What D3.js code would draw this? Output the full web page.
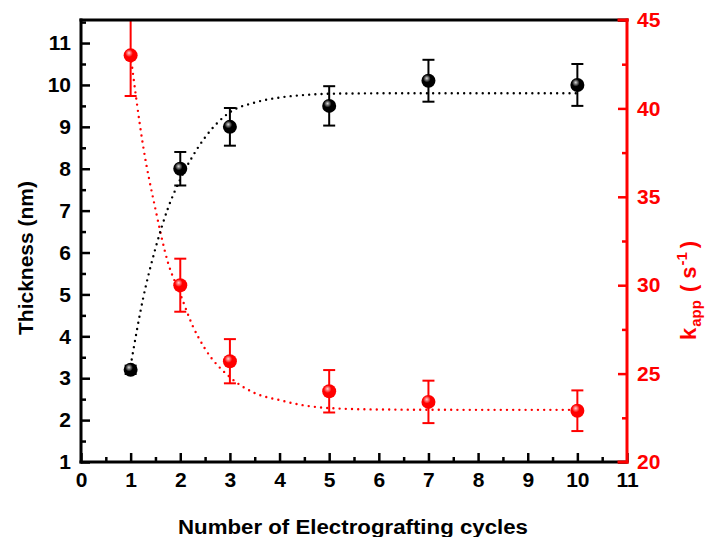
<!DOCTYPE html>
<html>
<head>
<meta charset="utf-8">
<script src="https://cdn.jsdelivr.net/npm/d3@7"></script>
<style>
  html, body { margin: 0; padding: 0; background: #fff; }
  svg text { font-family: "Liberation Sans", Arial, sans-serif; font-weight: bold; }
</style>
</head>
<body>
<div id="chart" style="width:707px;height:537px"></div>
<script>
// 数据
const cycles = [1, 2, 3, 5, 7, 10]
const thickness = [3.2, 8.0, 9.0, 9.5, 10.1, 10.0]
const thicknessErr = [0.1, 0.4, 0.45, 0.47, 0.5, 0.5]
const kapp = [43, 30, 25.7, 24, 23.4, 22.9]
const kappErr = [2.3, 1.5, 1.25, 1.2, 1.2, 1.15]

// 拟合曲线（从图上读取的点）
const fitX = [1, 1.25, 1.5, 1.75, 2, 2.25, 2.5, 3, 3.5, 4, 4.5, 5, 6, 8, 10]
const fitThickness = [3.3, 4.9, 6.1, 7.05, 7.75, 8.3, 8.75, 9.35, 9.58, 9.7, 9.76, 9.79, 9.8, 9.8, 9.8]
const fitKapp = [43, 37.9, 34.3, 31.3, 29.5, 27.7, 26.4, 24.8, 23.9, 23.5, 23.2, 23.05, 22.97, 22.95, 22.95]

// 刻度
const xTicks = d3.range(0, 12)
const yLeftTicks = d3.range(1, 12)
const yRightTicks = [20, 25, 30, 35, 40, 45]

const width = 707
const height = 537
const mLeft = 81, mRight = 627, mTop = 20, mBottom = 462
const RED = "#ff0000"

const svg = d3.select("#chart").append("svg")
  .attr("width", width).attr("height", height)

const x = d3.scaleLinear().domain([0, 11]).range([mLeft, mRight])
const yL = d3.scaleLinear().domain([1, 11.55]).range([mBottom, mTop])
const yR = d3.scaleLinear().domain([20, 45]).range([mBottom, mTop])

// 渐变（球形标记）
const defs = svg.append("defs")
function ball(id, light, dark) {
  const g = defs.append("radialGradient").attr("id", id)
    .attr("cx", "40%").attr("cy", "38%").attr("r", "60%").attr("fx", "38%").attr("fy", "32%")
  g.append("stop").attr("offset", "0%").attr("stop-color", light)
  g.append("stop").attr("offset", "45%").attr("stop-color", dark)
  g.append("stop").attr("offset", "100%").attr("stop-color", dark)
}
ball("ballBlack", "#d8d8d8", "#000")
ball("ballRed", "#ffd0d0", RED)

defs.append("clipPath").attr("id", "plotClip")
  .append("rect").attr("x", mLeft).attr("y", mTop).attr("width", mRight - mLeft).attr("height", mBottom - mTop)

const plot = svg.append("g").attr("clip-path", "url(#plotClip)")

// 拟合虚线
const lineL = d3.line().x((d, i) => x(fitX[i])).y(d => yL(d)).curve(d3.curveMonotoneX)
const lineR = d3.line().x((d, i) => x(fitX[i])).y(d => yR(d)).curve(d3.curveMonotoneX)

plot.append("path").attr("d", lineR(fitKapp))
  .attr("fill", "none").attr("stroke", RED).attr("stroke-width", 2.4)
  .attr("stroke-linecap", "round").attr("stroke-dasharray", "0 6.2")
plot.append("path").attr("d", lineL(fitThickness))
  .attr("fill", "none").attr("stroke", "#000").attr("stroke-width", 2.4)
  .attr("stroke-linecap", "round").attr("stroke-dasharray", "0 6.2")

// 误差棒 + 标记
function series(values, errs, scale, color, grad) {
  const g = plot.append("g")
  const rows = cycles.map((c, i) => ({ c, v: values[i], e: errs[i] }))
  const bars = g.selectAll("g.err").data(rows).enter().append("g")
    .attr("stroke", color).attr("stroke-width", 2)
  bars.append("line")
    .attr("x1", d => x(d.c)).attr("x2", d => x(d.c))
    .attr("y1", d => scale(d.v + d.e)).attr("y2", d => scale(d.v - d.e))
  bars.append("line")
    .attr("x1", d => x(d.c) - 6).attr("x2", d => x(d.c) + 6)
    .attr("y1", d => scale(d.v + d.e)).attr("y2", d => scale(d.v + d.e))
  bars.append("line")
    .attr("x1", d => x(d.c) - 6).attr("x2", d => x(d.c) + 6)
    .attr("y1", d => scale(d.v - d.e)).attr("y2", d => scale(d.v - d.e))
  g.selectAll("circle").data(rows).enter().append("circle")
    .attr("cx", d => x(d.c)).attr("cy", d => scale(d.v)).attr("r", 7)
    .attr("fill", `url(#${grad})`)
}
series(thickness, thicknessErr, yL, "#000", "ballBlack")
series(kapp, kappErr, yR, RED, "ballRed")

// 坐标轴
const axisStyle = (g, color) => {
  g.select(".domain").remove()
  g.selectAll("line").attr("stroke", color).attr("stroke-width", 2.5)
  g.selectAll("text").attr("fill", color).style("font-size", "21px")
}
const halves = (a, b) => d3.range(a, b + 0.001, 0.5).filter(v => v % 1 !== 0)

// 次刻度
svg.append("g").attr("transform", `translate(0,${mBottom})`)
  .call(d3.axisBottom(x).tickValues(halves(0, 11)).tickSize(-5).tickFormat(""))
  .call(g => axisStyle(g, "#000"))
svg.append("g").attr("transform", `translate(${mLeft},0)`)
  .call(d3.axisLeft(yL).tickValues(halves(1, 11.5)).tickSize(-5).tickFormat(""))
  .call(g => axisStyle(g, "#000"))
svg.append("g").attr("transform", `translate(${mRight},0)`)
  .call(d3.axisRight(yR).tickValues([22.5, 27.5, 32.5, 37.5, 42.5]).tickSize(-5).tickFormat(""))
  .call(g => axisStyle(g, RED))

// 主刻度
svg.append("g").attr("transform", `translate(0,${mBottom})`)
  .call(d3.axisBottom(x).tickValues(xTicks).tickSize(-9).tickPadding(10).tickFormat(d3.format("d")))
  .call(g => axisStyle(g, "#000"))
svg.append("g").attr("transform", `translate(${mLeft},0)`)
  .call(d3.axisLeft(yL).tickValues(yLeftTicks).tickSize(-9).tickPadding(10).tickFormat(d3.format("d")))
  .call(g => axisStyle(g, "#000"))
svg.append("g").attr("transform", `translate(${mRight},0)`)
  .call(d3.axisRight(yR).tickValues(yRightTicks).tickSize(-9).tickPadding(10).tickFormat(d3.format("d")))
  .call(g => axisStyle(g, RED))

// 边框
const frame = svg.append("g").attr("stroke-width", 3).attr("stroke-linecap", "square")
frame.append("line").attr("x1", mLeft).attr("x2", mRight).attr("y1", mTop).attr("y2", mTop).attr("stroke", "#000")
frame.append("line").attr("x1", mLeft).attr("x2", mRight).attr("y1", mBottom).attr("y2", mBottom).attr("stroke", "#000")
frame.append("line").attr("x1", mLeft).attr("x2", mLeft).attr("y1", mTop).attr("y2", mBottom).attr("stroke", "#000")
frame.append("line").attr("x1", mRight).attr("x2", mRight).attr("y1", mTop).attr("y2", mBottom).attr("stroke", RED)
frame.append("line").attr("x1", mRight - 8).attr("x2", mRight).attr("y1", mTop).attr("y2", mTop).attr("stroke", RED)
frame.append("line").attr("x1", mRight - 8).attr("x2", mRight).attr("y1", mBottom).attr("y2", mBottom).attr("stroke", RED)

// 轴标题
svg.append("text")
  .attr("transform", `translate(33,258) rotate(-90)`)
  .attr("text-anchor", "middle").style("font-size", "21px").attr("fill", "#000")
  .text("Thickness (nm)")

svg.append("text")
  .attr("x", 353).attr("y", 534)
  .attr("text-anchor", "middle").style("font-size", "20px").attr("fill", "#000")
  .attr("textLength", 350).attr("lengthAdjust", "spacingAndGlyphs")
  .text("Number of Electrografting cycles")

const kt = svg.append("text")
  .attr("transform", `translate(696,340) rotate(-90)`)
  .attr("text-anchor", "start").style("font-size", "22px").attr("fill", RED)
kt.append("tspan").text("k")
kt.append("tspan").attr("dy", 5).attr("dx", 1).style("font-size", "15px").text("app")
kt.append("tspan").attr("dy", -5).attr("dx", 8).text("(")
kt.append("tspan").attr("dx", 6).text("s")
kt.append("tspan").attr("dy", -9).attr("dx", 1).style("font-size", "15px").text("-1")
kt.append("tspan").attr("dy", 9).attr("dx", 4).text(")")
</script>
</body>
</html>
